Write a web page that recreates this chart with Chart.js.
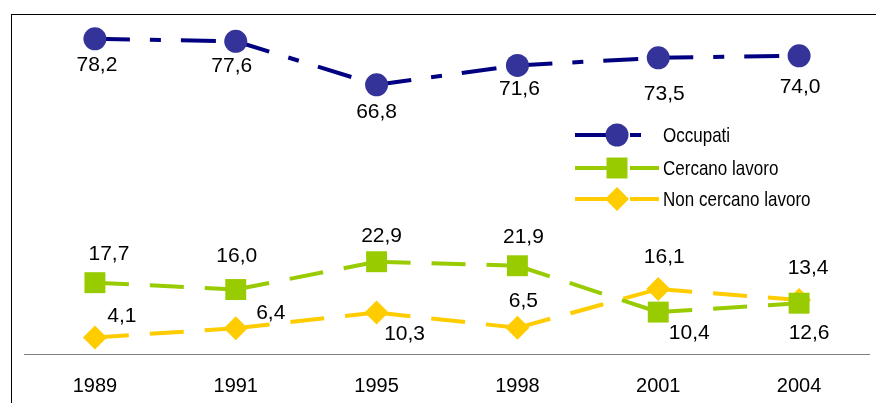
<!DOCTYPE html>
<html><head><meta charset="utf-8">
<script src="https://cdn.jsdelivr.net/npm/chart.js@4.4.0/dist/chart.umd.min.js"></script>
<style>
html,body{margin:0;padding:0;background:#fff;overflow:hidden}
#wrap{position:relative;width:876px;height:403px;overflow:hidden}
#frame{position:absolute;left:11px;top:14px;width:900px;height:500px;border:1px solid #000;box-sizing:border-box}
canvas{position:absolute;left:0;top:0}
</style></head><body>
<div id="wrap"><div id="frame"></div><canvas id="c" width="876" height="403"></canvas></div>
<script>
const years = ['1989','1991','1995','1998','2001','2004'];
const occupati = [78.2, 77.6, 66.8, 71.6, 73.5, 74.0];
const cercano = [17.7, 16.0, 22.9, 21.9, 10.4, 12.6];
const nonCercano = [4.1, 6.4, 10.3, 6.5, 16.1, 13.4];
const seriesNames = ['Occupati', 'Cercano lavoro', 'Non cercano lavoro'];

// label placement relative to each point (dx, dy in px)
const labelOffsets = [
  [[2,26],[-4,25],[0,27],[2,24],[6,36],[1,31]],
  [[14,-28],[1,-33],[5,-26],[6,-29],[31,21],[10,30]],
  [[27,-21],[35,-15],[28,22],[6,-27],[6,-32],[9,-32]]
];
const FONT = "'Liberation Sans', Arial, sans-serif";

const restartDash = { borderDashOffset: c => (c.p0DataIndex % 2) * 0.001 };

const labelsPlugin = {
  id: 'labelsAndLegend',
  afterDatasetsDraw(chart) {
    const ctx = chart.ctx;
    ctx.save();
    ctx.fillStyle = '#000';
    ctx.font = '21px ' + FONT;
    ctx.textAlign = 'center';
    ctx.textBaseline = 'middle';
    chart.data.datasets.forEach((ds, di) => {
      const meta = chart.getDatasetMeta(di);
      meta.data.forEach((pt, i) => {
        const o = labelOffsets[di][i];
        const txt = ds.data[i].toFixed(1).replace('.', ',');
        ctx.fillText(txt, pt.x + o[0], pt.y + o[1]);
      });
    });
    // legend
    const rows = [135, 168, 199];
    chart.data.datasets.forEach((ds, di) => {
      const y = rows[di];
      ctx.save();
      ctx.strokeStyle = ds.borderColor;
      ctx.lineWidth = ds.borderWidth;
      ctx.setLineDash(ds.borderDash);
      ctx.lineDashOffset = 0;
      ctx.beginPath();
      ctx.moveTo(575, y);
      ctx.lineTo(659, y);
      ctx.stroke();
      ctx.setLineDash([]);
      ctx.fillStyle = ds.pointBackgroundColor;
      Chart.helpers.drawPoint(ctx, {pointStyle: ds.pointStyle, radius: ds.pointRadius, rotation: 0, borderWidth: 0}, 617, y);
      ctx.restore();
      ctx.save();
      ctx.fillStyle = '#000';
      ctx.font = '21px ' + FONT;
      ctx.textAlign = 'left';
      ctx.textBaseline = 'middle';
      ctx.translate(663, y + 1);
      ctx.scale(0.81, 1);
      ctx.fillText(seriesNames[di], 0, 0);
      ctx.restore();
    });
    ctx.restore();
  }
};

new Chart(document.getElementById('c'), {
  type: 'line',
  data: {
    labels: years,
    datasets: [
      {
        label: seriesNames[0], data: occupati,
        borderColor: '#000080', borderWidth: 4, borderDash: [35, 20, 11, 20],
        pointStyle: 'circle', pointRadius: 11.5, pointBackgroundColor: '#333399',
        pointBorderColor: '#333399', pointBorderWidth: 0, segment: restartDash, fill: false, clip: false
      },
      {
        label: seriesNames[1], data: cercano,
        borderColor: '#99CC00', borderWidth: 4, borderDash: [34, 21],
        pointStyle: 'rect', pointRadius: 14.8, pointBackgroundColor: '#99CC00',
        pointBorderColor: '#99CC00', pointBorderWidth: 0, segment: restartDash, fill: false, clip: false
      },
      {
        label: seriesNames[2], data: nonCercano,
        borderColor: '#FFCC00', borderWidth: 4, borderDash: [34, 21],
        pointStyle: 'rectRot', pointRadius: 12, pointBackgroundColor: '#FFCC00',
        pointBorderColor: '#FFCC00', pointBorderWidth: 0, segment: restartDash, fill: false, clip: false
      }
    ]
  },
  options: {
    responsive: false,
    animation: false,
    layout: { autoPadding: false, padding: { left: 24.5, right: 6.5, top: 31.6, bottom: 0 } },
    plugins: { legend: { display: false }, tooltip: { enabled: false } },
    scales: {
      x: {
        type: 'category', offset: true,
        grid: { display: false, drawTicks: false },
        border: { display: true, color: '#808080', width: 1 },
        ticks: { color: '#000', font: { family: FONT, size: 20 }, padding: 20, maxRotation: 0 },
        afterFit: s => { s.height = 49; }
      },
      y: { display: false, min: 0, max: 80 }
    }
  },
  plugins: [labelsPlugin]
});
</script>
</body></html>
